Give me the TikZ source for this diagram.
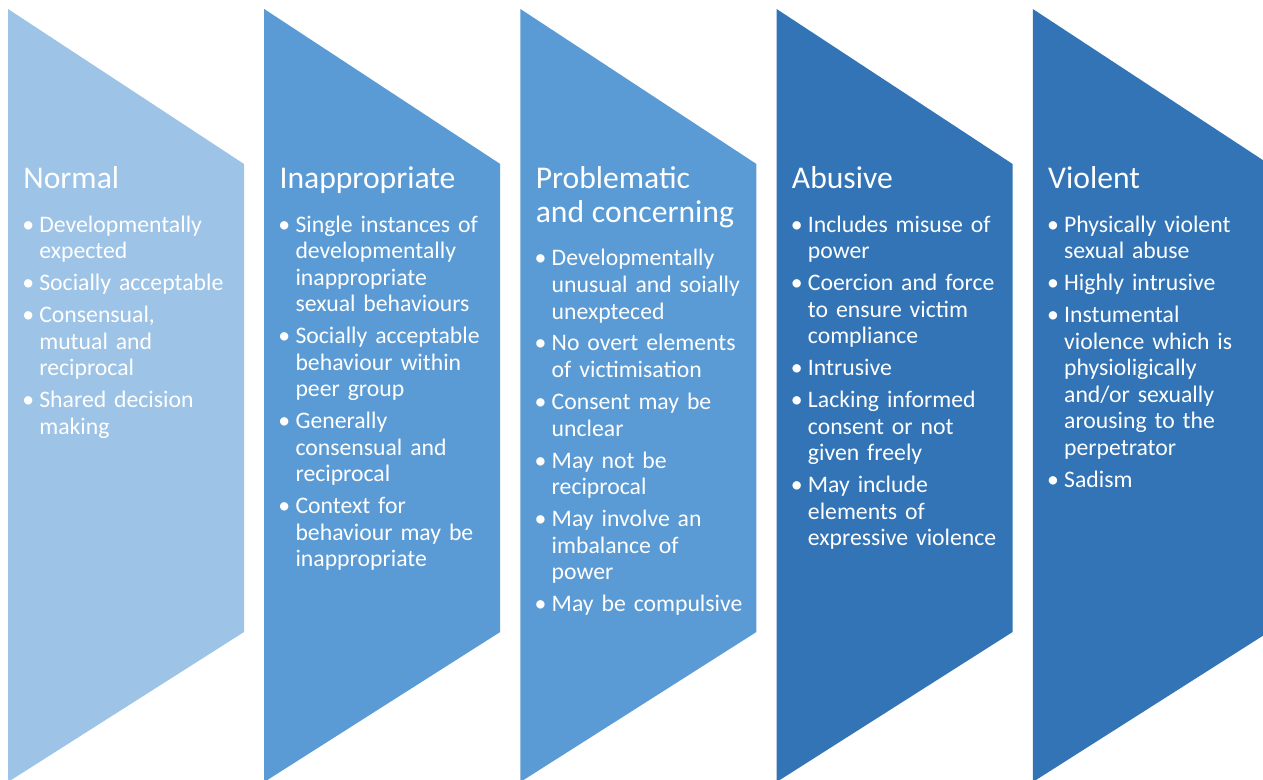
\documentclass[tikz,border=0pt]{standalone}
\usepackage{fontspec}
\setmainfont{Carlito}
\usetikzlibrary{positioning}
\definecolor{stageA}{RGB}{157,195,230}
\definecolor{stageB}{RGB}{91,155,213}
\definecolor{stageC}{RGB}{50,116,182}
\newlength{\itemgap}\setlength{\itemgap}{3.1pt}
\newcommand{\stagehead}[1]{{\fontsize{18pt}{19.3pt}\selectfont #1\par}\vspace{6.3pt}}
\newcommand{\stageitem}[1]{\par\vspace{\itemgap}{\leftskip=9.1pt\noindent\llap{\textbullet\hspace{3pt}}#1\par}}
\tikzset{
  stagetext/.style={anchor=base west, inner sep=0pt, text width=150pt, align=left,
                    text=white, font=\fontsize{13.5pt}{15.1pt}\selectfont},
}

\begin{document}
\begin{tikzpicture}[x=0.02cm, y=-0.02cm]
\useasboundingbox (0,0) rectangle (1263,780);
\clip (0,0) rectangle (1263,780);
% chevron columns
\foreach \x/\c in {8/stageA, 264.2/stageB, 520.4/stageB, 776.6/stageC, 1032.8/stageC}
  \fill[\c] (\x,9) -- ++(236,155) -- ++(0,468) -- (\x,782) -- cycle;
% column texts
\node[stagetext] (normal) at (23,189) {\stagehead{Normal}%
  \stageitem{Developmentally\newline expected}%
  \stageitem{Socially acceptable}%
  \stageitem{Consensual,\newline mutual and\newline reciprocal}%
  \stageitem{Shared decision\newline making}};
\node[stagetext] (inappr) at (279.2,189) {\stagehead{Inappropriate}%
  \stageitem{Single instances of\newline developmentally\newline inappropriate\newline sexual behaviours}%
  \stageitem{Socially acceptable\newline behaviour within\newline peer group}%
  \stageitem{Generally\newline consensual and\newline reciprocal}%
  \stageitem{Context for\newline behaviour may be\newline inappropriate}};
\node[stagetext] (problem) at (535.4,189) {\stagehead{Problematic\newline and concerning}%
  \stageitem{Developmentally\newline unusual and soially\newline unexpteced}%
  \stageitem{No overt elements\newline of victimisation}%
  \stageitem{Consent may be\newline unclear}%
  \stageitem{May not be\newline reciprocal}%
  \stageitem{May involve an\newline imbalance of\newline power}%
  \stageitem{May be compulsive}};
\node[stagetext] (abusive) at (791.6,189) {\stagehead{Abusive}%
  \stageitem{Includes misuse of\newline power}%
  \stageitem{Coercion and force\newline to ensure victim\newline compliance}%
  \stageitem{Intrusive}%
  \stageitem{Lacking informed\newline consent or not\newline given freely}%
  \stageitem{May include\newline elements of\newline expressive violence}};
\node[stagetext] (violent) at (1047.8,189) {\stagehead{Violent}%
  \stageitem{Physically violent\newline sexual abuse}%
  \stageitem{Highly intrusive}%
  \stageitem{Instumental\newline violence which is\newline physioligically\newline and/or sexually\newline arousing to the\newline perpetrator}%
  \stageitem{Sadism}};
\end{tikzpicture}
\end{document}
